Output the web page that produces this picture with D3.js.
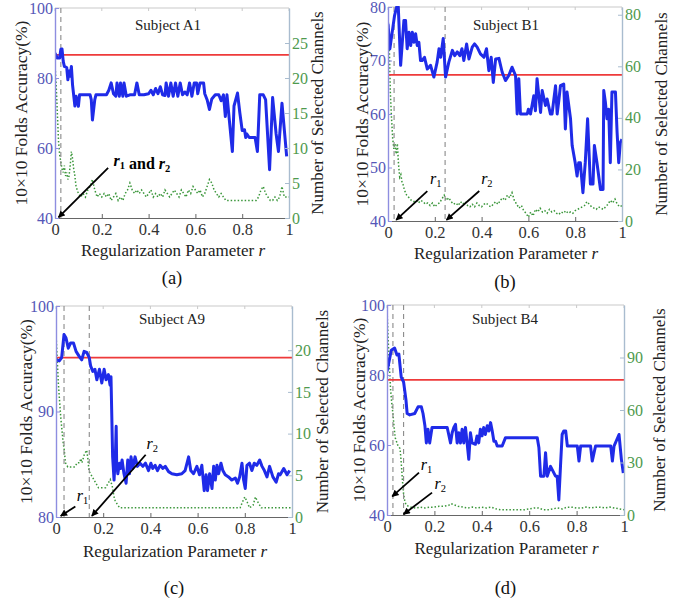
<!DOCTYPE html>
<html><head><meta charset="utf-8">
<script src="https://cdn.jsdelivr.net/npm/d3@7/dist/d3.min.js"></script>
<style>
body{margin:0;background:#fff}
svg{display:block}
svg text{font-family:"Liberation Serif","Times New Roman",Tinos,"DejaVu Serif",serif !important}
</style>
</head><body>
<svg id="chart" width="674" height="601" font-family="Liberation Serif"></svg>
<script>
// ---------- shared axis ticks ----------
const xTicks = [0, 0.2, 0.4, 0.6, 0.8, 1];
const xTickLabels = ["0", "0.2", "0.4", "0.6", "0.8", "1"];

// ---------- Subject A1 ----------
const accA1 = [[0,87.1],[0.01,85.7],[0.02,85.7],[0.025,88.2],[0.03,88.3],[0.035,84.8],[0.04,83.3],[0.05,83],[0.055,79.5],[0.06,82],[0.065,80.5],[0.07,83.3],[0.075,78],[0.085,72],[0.09,74.8],[0.1,71.9],[0.105,75.2],[0.13,75.2],[0.15,75.2],[0.155,73.8],[0.16,68],[0.17,73.8],[0.175,75.2],[0.22,75.2],[0.23,76.5],[0.24,78.6],[0.25,75.5],[0.26,74.8],[0.265,78.6],[0.275,74.8],[0.28,78.6],[0.29,74.8],[0.295,78.6],[0.305,74.8],[0.32,75.2],[0.34,75.2],[0.35,78.6],[0.36,75.2],[0.38,75.2],[0.4,75.5],[0.41,76.5],[0.42,75.2],[0.43,77],[0.44,75.5],[0.45,77.5],[0.46,75.2],[0.47,75],[0.475,78.6],[0.485,74.8],[0.495,78.6],[0.505,74.8],[0.515,78.6],[0.525,74.8],[0.535,78.6],[0.545,75.2],[0.555,76],[0.565,75.2],[0.575,78.6],[0.585,74.8],[0.595,78.6],[0.605,78.6],[0.61,75.5],[0.62,78.6],[0.635,78.6],[0.64,75.5],[0.65,73.8],[0.66,71],[0.67,74],[0.685,75.2],[0.7,75.2],[0.71,73.5],[0.72,75.2],[0.728,69],[0.735,75.2],[0.745,68],[0.758,59],[0.765,72],[0.78,75.7],[0.79,70],[0.8,65],[0.81,65.2],[0.815,63],[0.82,64],[0.83,63],[0.855,63],[0.865,59],[0.875,75.2],[0.89,75.2],[0.9,73.8],[0.917,53.8],[0.93,74.4],[0.945,64],[0.955,59],[0.97,72.8],[0.99,57.6]];
const chA1 = [[0,22],[0.005,19],[0.01,15],[0.015,11],[0.02,9],[0.025,8],[0.03,7],[0.035,6.5],[0.04,7.5],[0.045,6],[0.05,6.5],[0.055,5.5],[0.06,6],[0.065,7.5],[0.07,9.5],[0.075,8.5],[0.08,7],[0.085,6],[0.09,4.5],[0.1,3.5],[0.11,3],[0.12,3.5],[0.13,3],[0.14,4],[0.15,4.5],[0.16,5.5],[0.17,4],[0.18,3],[0.19,3.5],[0.2,3],[0.21,3.5],[0.22,3],[0.23,3.5],[0.24,2.5],[0.25,3],[0.26,3.5],[0.27,2.5],[0.28,3],[0.29,2.5],[0.3,3.5],[0.31,4],[0.32,5],[0.33,4],[0.34,3.5],[0.35,4],[0.36,3.5],[0.37,4],[0.38,3.5],[0.39,3],[0.4,3.5],[0.41,4],[0.42,3],[0.43,3.5],[0.44,3],[0.45,3.5],[0.46,3],[0.47,4],[0.48,3.5],[0.49,3],[0.5,3.5],[0.51,4],[0.52,3.5],[0.53,3],[0.54,4],[0.55,3.5],[0.56,3],[0.57,4],[0.58,3.5],[0.59,4.5],[0.6,4],[0.61,3.5],[0.62,4],[0.63,3],[0.64,3.5],[0.65,4.5],[0.66,5.5],[0.67,5],[0.68,4],[0.69,3.5],[0.7,3],[0.71,3.5],[0.72,3],[0.73,2.5],[0.76,2.5],[0.8,2.5],[0.83,2.5],[0.86,2.5],[0.87,3],[0.88,4],[0.89,4.5],[0.9,3.5],[0.91,3],[0.92,2.5],[0.93,2.5],[0.94,3],[0.95,2.5],[0.96,3],[0.97,4.5],[0.98,3],[0.99,3],[1,3]];
const baseA1 = 86.6;
const rA1 = [0.025];

// ---------- Subject B1 ----------
const accB1 = [[0,76.9],[0.008,72.2],[0.018,75.3],[0.028,78.4],[0.037,80],[0.044,80],[0.054,69.1],[0.068,77.5],[0.075,77.5],[0.082,72.2],[0.09,75.3],[0.097,72.8],[0.104,75.3],[0.111,73.4],[0.118,75],[0.125,72.8],[0.132,73.4],[0.139,70],[0.146,70],[0.156,70.6],[0.168,68.4],[0.182,69.1],[0.196,66.9],[0.21,69.7],[0.218,72.2],[0.225,70.6],[0.236,74.1],[0.246,66.9],[0.26,69.7],[0.275,71.9],[0.285,70.9],[0.296,71.6],[0.307,70.9],[0.316,72.2],[0.324,70],[0.336,73.1],[0.346,70.3],[0.36,72.5],[0.37,73.1],[0.381,72.5],[0.395,71.25],[0.41,70.6],[0.421,72.2],[0.431,68.1],[0.441,70.6],[0.45,65.9],[0.46,70.3],[0.474,70.4],[0.488,67.8],[0.502,66.25],[0.516,67.2],[0.53,68.75],[0.545,67.2],[0.552,60],[0.559,66.6],[0.566,60],[0.58,60],[0.595,60],[0.6,60.9],[0.609,60],[0.623,63.4],[0.63,60.6],[0.637,66.6],[0.652,60.3],[0.659,64.4],[0.673,61.6],[0.68,62.8],[0.694,60],[0.701,60],[0.716,65.3],[0.723,60],[0.73,62.5],[0.737,65.3],[0.751,65.6],[0.758,57.2],[0.765,64.1],[0.78,59.1],[0.787,54.1],[0.8,50.9],[0.808,48.4],[0.815,50.9],[0.822,50.9],[0.833,45.3],[0.843,50.9],[0.853,59.1],[0.865,46.9],[0.876,46.9],[0.882,54.1],[0.893,50.9],[0.908,45.9],[0.919,45.9],[0.922,64.4],[0.929,62.2],[0.936,59.1],[0.943,60.9],[0.95,50.9],[0.957,64.1],[0.972,64.1],[0.979,56.6],[0.986,50.9],[0.993,54.7],[1,55.3]];
const chB1 = [[0,80],[0.005,70],[0.01,50],[0.015,40],[0.02,32],[0.025,28],[0.03,30],[0.035,26],[0.04,30],[0.045,22],[0.05,17],[0.055,18],[0.06,15],[0.065,14],[0.07,12],[0.08,10],[0.09,9],[0.1,8],[0.11,7.5],[0.12,8],[0.13,7],[0.14,8],[0.15,7.5],[0.16,6.5],[0.17,7],[0.18,6],[0.19,7],[0.2,5.5],[0.21,6.5],[0.22,7],[0.23,8.5],[0.24,10],[0.25,8],[0.26,9],[0.27,7.5],[0.28,6.5],[0.29,7],[0.3,6],[0.31,7.5],[0.32,6.5],[0.33,7.5],[0.34,6],[0.35,5.5],[0.36,6.5],[0.37,5.5],[0.38,7],[0.39,6],[0.4,5.5],[0.41,6.5],[0.42,7],[0.43,6],[0.44,5.5],[0.45,6.5],[0.46,7.5],[0.47,6.5],[0.48,8],[0.49,9],[0.5,8],[0.51,10],[0.52,9],[0.53,11],[0.54,8],[0.55,6.5],[0.56,5],[0.57,6],[0.58,4],[0.59,3],[0.6,1.5],[0.61,3.5],[0.62,2],[0.63,4.5],[0.64,3.5],[0.65,5],[0.66,3.5],[0.67,4],[0.68,3],[0.69,4.5],[0.7,3.5],[0.71,4],[0.72,3],[0.73,2.5],[0.74,3.5],[0.75,3],[0.76,4],[0.77,3],[0.78,3.5],[0.79,3],[0.8,4],[0.81,4.5],[0.82,5],[0.83,5.5],[0.84,6],[0.85,7.5],[0.86,6.5],[0.87,5.5],[0.88,5],[0.89,4.5],[0.9,5.5],[0.91,5],[0.92,4.5],[0.93,5.5],[0.94,6.5],[0.95,8],[0.96,7],[0.97,8.5],[0.98,6.5],[0.99,5.5],[1,6]];
const baseB1 = 67.3;
const rB1 = [0.026, 0.244];

// ---------- Subject A9 ----------
const accA9 = [[0,94.9],[0.014,94.8],[0.024,95.1],[0.034,97.3],[0.042,97],[0.052,96],[0.062,96.5],[0.074,96.5],[0.085,95.7],[0.099,95.2],[0.109,94.9],[0.119,95.7],[0.13,95.6],[0.141,95.1],[0.147,94.3],[0.156,93.8],[0.165,94],[0.173,93],[0.184,94],[0.194,92.7],[0.204,94],[0.212,93],[0.222,93.5],[0.229,92.5],[0.233,93.3],[0.24,85.7],[0.246,83.5],[0.252,86],[0.255,88.6],[0.257,85.1],[0.262,84.1],[0.269,85.1],[0.274,84.6],[0.28,85.4],[0.288,84.1],[0.297,83.2],[0.304,85.4],[0.311,84.1],[0.318,85.7],[0.325,84.6],[0.335,85.7],[0.345,84.8],[0.356,85.1],[0.368,84.8],[0.379,85.1],[0.392,84.4],[0.402,85.1],[0.41,84.6],[0.42,84.9],[0.43,84.4],[0.441,84.9],[0.453,84.6],[0.463,84.8],[0.477,84.3],[0.491,84.1],[0.512,84],[0.533,84.1],[0.547,84.4],[0.562,85.7],[0.571,84.4],[0.583,84.1],[0.597,84.8],[0.608,84],[0.618,84.9],[0.628,82.5],[0.636,84],[0.642,82.5],[0.651,84.1],[0.661,82.7],[0.668,84.8],[0.675,83.5],[0.682,84.9],[0.689,84.1],[0.699,85.1],[0.707,84.4],[0.717,84],[0.731,83.8],[0.745,83.5],[0.76,83.7],[0.769,83.2],[0.778,83.8],[0.788,85.1],[0.795,83.5],[0.802,82.7],[0.809,84.9],[0.82,85.1],[0.83,84.4],[0.84,85.1],[0.851,84.9],[0.863,85.4],[0.873,84.8],[0.883,84.4],[0.894,83.8],[0.905,84.8],[0.919,83.8],[0.933,83.3],[0.943,84.1],[0.95,84],[0.965,84.6],[0.979,84],[0.99,84.4]];
const chA9 = [[0,22],[0.005,19],[0.01,16],[0.015,14],[0.02,12],[0.025,10.5],[0.03,9],[0.035,8],[0.04,6.5],[0.05,6],[0.06,6],[0.07,6],[0.08,6],[0.09,6.5],[0.1,6.5],[0.105,7],[0.11,6.5],[0.12,7.5],[0.13,8],[0.135,7],[0.14,5.5],[0.15,5],[0.16,4.5],[0.17,4],[0.18,3.5],[0.19,3.5],[0.2,3.5],[0.21,3.5],[0.22,4],[0.23,4.5],[0.24,3.5],[0.245,2.5],[0.25,2],[0.26,1.5],[0.27,1.1],[0.4,1.1],[0.6,1.1],[0.78,1.1],[0.79,1.8],[0.8,2.4],[0.81,1.8],[0.82,1.1],[0.835,1.4],[0.845,2.4],[0.855,1.8],[0.87,1.1],[1,1.1]];
const baseA9 = 95.1;
const rA9 = [0.034, 0.141];

// ---------- Subject B4 ----------
const accB4 = [[0,81],[0.01,84.3],[0.018,87.1],[0.032,87.7],[0.042,85.7],[0.05,86],[0.06,79.4],[0.07,78],[0.08,72.9],[0.085,69],[0.096,68.6],[0.117,69],[0.131,70.9],[0.145,70.9],[0.152,69],[0.16,65.5],[0.166,60.6],[0.173,64.5],[0.18,60.6],[0.19,65],[0.211,65],[0.239,65],[0.254,65],[0.268,60.6],[0.275,63.5],[0.282,65],[0.289,65.9],[0.296,60.6],[0.303,63.5],[0.31,60.6],[0.317,64.5],[0.324,60.6],[0.331,65],[0.338,60.6],[0.345,55.9],[0.352,63.5],[0.359,60.6],[0.373,60.2],[0.38,62.6],[0.387,60.6],[0.394,64.5],[0.401,62.6],[0.408,65],[0.415,63],[0.423,65.5],[0.43,64],[0.437,66.4],[0.444,64],[0.451,61.1],[0.458,61.1],[0.465,59.7],[0.486,59.7],[0.5,62.1],[0.521,62.1],[0.634,62.1],[0.641,59.2],[0.648,51.1],[0.662,51.1],[0.669,57.8],[0.676,51.1],[0.69,53.9],[0.711,51.1],[0.718,51.1],[0.725,44.3],[0.732,53.9],[0.739,63],[0.746,64],[0.754,64],[0.761,59.7],[0.789,59.7],[0.803,59.7],[0.81,55.4],[0.817,59.7],[0.859,59.7],[0.866,55.4],[0.88,59.7],[0.944,59.7],[0.951,55.4],[0.958,59.7],[0.979,63],[0.989,55.9],[0.997,52]];
const chB4 = [[0,118],[0.005,100],[0.01,85],[0.015,72],[0.02,64],[0.025,58],[0.03,50],[0.035,44],[0.04,42],[0.045,40],[0.05,39],[0.055,38],[0.06,30],[0.065,20],[0.07,12],[0.075,8],[0.08,6],[0.09,5],[0.1,4.5],[0.12,4],[0.14,4.5],[0.16,4],[0.18,4.5],[0.2,4.5],[0.22,5],[0.24,5],[0.26,5.5],[0.27,6.5],[0.28,6],[0.3,5],[0.32,4.5],[0.34,4],[0.36,4.5],[0.38,4],[0.4,4.5],[0.42,4],[0.44,4.5],[0.46,3.5],[0.48,3],[0.5,3],[0.52,3],[0.54,3],[0.56,3],[0.58,3],[0.6,3.5],[0.62,4],[0.64,4],[0.66,3],[0.68,3],[0.7,3.5],[0.72,4],[0.74,3.5],[0.76,4.5],[0.78,4.5],[0.8,4],[0.82,4],[0.84,4.5],[0.86,4],[0.88,4.5],[0.9,4.5],[0.92,4],[0.94,4.5],[0.96,4],[0.98,3.5],[1,3]];
const baseB4 = 78.6;
const rB4 = [0.025, 0.07];

// ---------- panel layout / styling ----------
const panels = [
  {title:"Subject A1", caption:"(a)", acc:accA1, ch:chA1, base:baseA1, rs:rA1,
   left:55, top:8, w:234, h:210, yDom:[40,100], yTicks:[40,60,80,100], y2Dom:[0,30], y2Ticks:[0,5,10,15,20,25],
   titleXY:[168,30], yLabX:21, y2LabX:317, xLabY:256, capY:284,
   arrows:[{from:[0.227,54.3], to:[0.015,40.2]}],
   notes:[{at:[0.25,54.9], parts:[["r",1],[" and ",0],["r",2]], bold:true}]},
  {title:"Subject B1", caption:"(b)", acc:accB1, ch:chB1, base:baseB1, rs:rB1,
   left:388, top:7, w:234, h:214, yDom:[40,80], yTicks:[40,50,60,70,80], y2Dom:[0,83], y2Ticks:[0,20,40,60,80],
   titleXY:[506,30], yLabX:362, y2LabX:661, xLabY:259, capY:288,
   arrows:[{from:[0.168,45.6], to:[0.035,40.2]}, {from:[0.39,45.6], to:[0.25,40.2]}],
   notes:[{at:[0.18,47.0], parts:[["r",1]]}, {at:[0.398,47.0], parts:[["r",2]]}]},
  {title:"Subject A9", caption:"(c)", acc:accA9, ch:chA9, base:baseA9, rs:rA9,
   left:56, top:306, w:236, h:211, yDom:[80,100], yTicks:[80,90,100], y2Dom:[0,25.3], y2Ticks:[0,5,10,15,20],
   titleXY:[172,324], yLabX:26, y2LabX:322, xLabY:557, capY:594,
   arrows:[{from:[0.082,81.0], to:[0.02,80.1]}, {from:[0.38,85.9], to:[0.152,80.1]}],
   notes:[{at:[0.088,81.5], parts:[["r",1]]}, {at:[0.384,86.4], parts:[["r",2]]}]},
  {title:"Subject B4", caption:"(d)", acc:accB4, ch:chB4, base:baseB4, rs:rB4,
   left:387, top:305, w:237, h:210, yDom:[40,100], yTicks:[40,60,80,100], y2Dom:[0,120], y2Ticks:[0,30,60,90],
   titleXY:[505,324], yLabX:359, y2LabX:659, xLabY:554, capY:594,
   arrows:[{from:[0.135,52.1], to:[0.022,45.3]}, {from:[0.19,46.4], to:[0.07,40.2]}],
   notes:[{at:[0.142,53.0], parts:[["r",1]]}, {at:[0.2,47.3], parts:[["r",2]]}]}
];

const FONT = '"Liberation Serif","Times New Roman",Tinos,"DejaVu Serif",serif';
const C = {
  blue:"#1f2be8", red:"#ee3a3a", green:"#3a963a", dash:"#8a8a8a",
  leftAxis:"#8e8ee0", leftTick:"#5457b8", rightAxis:"#a9bccf", rightTick:"#4e9a4e",
  bottomAxis:"#666", border:"#c9c9c9", text:"#222"
};

const svg = d3.select("#chart");
const defs = svg.append("defs");
defs.append("marker").attr("id","arrowHead").attr("viewBox","0 0 10 10")
  .attr("refX",9).attr("refY",5).attr("markerWidth",8).attr("markerHeight",7)
  .attr("orient","auto").attr("markerUnits","userSpaceOnUse")
  .append("path").attr("d","M0,0 L10,5 L0,10 z").attr("fill","#000");

panels.forEach((p, i) => {
  const g = svg.append("g");
  const x = d3.scaleLinear().domain([0,1]).range([p.left, p.left + p.w]);
  const y = d3.scaleLinear().domain(p.yDom).range([p.top + p.h, p.top]);
  const y2 = d3.scaleLinear().domain(p.y2Dom).range([p.top + p.h, p.top]);
  const bottom = p.top + p.h, right = p.left + p.w;

  const clipId = "clip" + i;
  defs.append("clipPath").attr("id", clipId).append("rect")
    .attr("x", p.left).attr("y", p.top - 1).attr("width", p.w).attr("height", p.h + 1);

  g.append("line").attr("x1", p.left).attr("x2", right).attr("y1", p.top).attr("y2", p.top)
    .attr("stroke", C.border).attr("stroke-width", 1);
  g.selectAll(".tt").data(xTicks).join("line")
    .attr("x1", d => x(d)).attr("x2", d => x(d)).attr("y1", p.top).attr("y2", p.top + 3)
    .attr("stroke", C.border);

  const plot = g.append("g").attr("clip-path", `url(#${clipId})`);

  plot.append("path").datum(p.ch)
    .attr("d", d3.line().x(d => x(d[0])).y(d => y2(d[1])))
    .attr("fill", "none").attr("stroke", C.green).attr("stroke-width", 1.5)
    .attr("stroke-dasharray", "1.5,2");

  plot.selectAll(".rl").data(p.rs).join("line")
    .attr("x1", d => x(d)).attr("x2", d => x(d)).attr("y1", p.top).attr("y2", bottom)
    .attr("stroke", C.dash).attr("stroke-width", 1.1).attr("stroke-dasharray", "5,4");

  plot.append("line").attr("x1", p.left).attr("x2", right)
    .attr("y1", y(p.base)).attr("y2", y(p.base))
    .attr("stroke", C.red).attr("stroke-width", 1.8);

  plot.append("path").datum(p.acc)
    .attr("d", d3.line().x(d => x(d[0])).y(d => y(d[1])))
    .attr("fill", "none").attr("stroke", C.blue).attr("stroke-width", 3)
    .attr("stroke-linejoin", "round");

  const xa = g.append("g").attr("transform", `translate(0,${bottom})`)
    .call(d3.axisBottom(x).tickValues(xTicks).tickFormat((d, k) => xTickLabels[k])
      .tickSizeInner(-4).tickSizeOuter(0).tickPadding(5));
  xa.attr("font-family", FONT);
  xa.select(".domain").attr("stroke", C.bottomAxis).attr("stroke-width", 1.2);
  xa.selectAll(".tick line").attr("stroke", C.bottomAxis);
  xa.selectAll(".tick text").attr("fill", "#333").attr("font-size", 16.5).attr("font-family", FONT);

  const ya = g.append("g").attr("transform", `translate(${p.left},0)`)
    .call(d3.axisLeft(y).tickValues(p.yTicks).tickSizeInner(-4).tickSizeOuter(0).tickPadding(2));
  ya.attr("font-family", FONT);
  ya.select(".domain").attr("stroke", C.leftAxis).attr("stroke-width", 1.4);
  ya.selectAll(".tick line").attr("stroke", C.leftAxis);
  ya.selectAll(".tick text").attr("fill", C.leftTick).attr("font-size", 16).attr("font-family", FONT);

  const y2a = g.append("g").attr("transform", `translate(${right},0)`)
    .call(d3.axisRight(y2).tickValues(p.y2Ticks).tickSizeInner(-4).tickSizeOuter(0).tickPadding(3));
  y2a.attr("font-family", FONT);
  y2a.select(".domain").attr("stroke", C.rightAxis).attr("stroke-width", 1.4);
  y2a.selectAll(".tick line").attr("stroke", C.rightAxis);
  y2a.selectAll(".tick text").attr("fill", C.rightTick).attr("font-size", 16).attr("font-family", FONT);

  g.append("text").attr("x", p.titleXY[0]).attr("y", p.titleXY[1]).attr("font-family", FONT)
    .attr("text-anchor", "middle").attr("font-size", 15).attr("fill", C.text).text(p.title);

  const cy = p.top + p.h / 2;
  g.append("text").attr("transform", `translate(${p.yLabX},${cy}) rotate(-90)`).attr("font-family", FONT)
    .attr("text-anchor", "middle").attr("dominant-baseline", "central")
    .attr("font-size", 17.5).attr("fill", C.text).text("10×10 Folds Accuracy(%)");
  g.append("text").attr("transform", `translate(${p.y2LabX},${cy}) rotate(-90)`).attr("font-family", FONT)
    .attr("text-anchor", "middle").attr("dominant-baseline", "central")
    .attr("font-size", 17).attr("fill", C.text).text("Number of Selected Channels");
  const xl = g.append("text").attr("x", p.left + p.w / 2 + 1).attr("y", p.xLabY).attr("font-family", FONT)
    .attr("text-anchor", "middle").attr("font-size", 17).attr("fill", C.text);
  xl.append("tspan").text("Regularization Parameter ");
  xl.append("tspan").attr("font-style", "italic").text("r");

  g.append("text").attr("x", p.left + p.w / 2).attr("y", p.capY).attr("font-family", FONT)
    .attr("text-anchor", "middle").attr("font-size", 18.5).attr("fill", "#111").text(p.caption);

  p.arrows.forEach(a => {
    g.append("line").attr("x1", x(a.from[0])).attr("y1", y(a.from[1]))
      .attr("x2", x(a.to[0])).attr("y2", y(a.to[1]))
      .attr("stroke", "#000").attr("stroke-width", 1.8).attr("marker-end", "url(#arrowHead)");
  });
  p.notes.forEach(n => {
    const t = g.append("text").attr("x", x(n.at[0])).attr("y", y(n.at[1])).attr("font-family", FONT)
      .attr("font-size", 16).attr("fill", "#000").attr("font-weight", n.bold ? "bold" : "normal");
    n.parts.forEach(([s, sub]) => {
      if (sub) {
        t.append("tspan").attr("font-style", "italic").text(s);
        t.append("tspan").attr("font-size", 10.5).attr("dy", 3).text(sub);
        t.append("tspan").attr("font-size", 16).attr("dy", -3).text("");
      } else {
        t.append("tspan").text(s);
      }
    });
  });
});
</script>
</body></html>
